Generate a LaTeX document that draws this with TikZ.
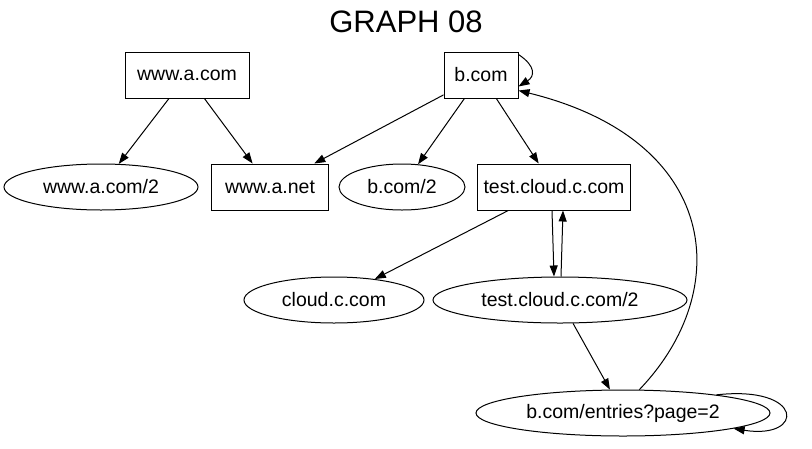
\documentclass[tikz,border=0pt]{standalone}
\usepackage{fontspec}
\setmainfont{Liberation Sans}
\usetikzlibrary{shapes.geometric,arrows.meta}
\begin{document}
\begin{tikzpicture}[x=1pt,y=-1pt,
  every node/.style={font=\fontsize{19.5}{22}\selectfont},
  boxnode/.style={draw,line width=1pt,rectangle,minimum height=46pt,inner sep=0pt},
  ellnode/.style={draw,line width=1pt,ellipse,minimum height=46pt,inner sep=0pt},
  arr/.style={line width=1pt,-{Triangle[length=11pt,width=8pt]}}]
\path[use as bounding box] (0,0) rectangle (812,448);
\node[font=\fontsize{31}{34}\selectfont] (title) at (406,22) {GRAPH 08};
\node[boxnode,minimum width=124pt] (wa) at (187,75) {www.a.com};
\node[boxnode,minimum width=74pt] (b) at (481,75) {b.com};
\node[ellnode,minimum width=194pt] (wa2) at (101,187) {www.a.com/2};
\node[boxnode,minimum width=117pt] (wan) at (270,187) {www.a.net};
\node[ellnode,minimum width=126pt] (b2) at (402,187) {b.com/2};
\node[boxnode,minimum width=153pt] (tc) at (554,187) {test.cloud.c.com};
\node[ellnode,minimum width=180pt] (cc) at (334,300) {cloud.c.com};
\node[ellnode,minimum width=254pt] (tc2) at (560,300) {test.cloud.c.com/2};
\node[ellnode,minimum width=294pt] (ent) at (623,413) {b.com/entries?page=2};
\draw[arr] (wa) -- (wa2);
\draw[arr] (wa) -- (wan);
\draw[arr] (b) -- (wan);
\draw[arr] (b) -- (b2);
\draw[arr] (b) -- (tc);
\draw[arr] ([yshift=-3pt]b.north east) .. controls +(18,12) and +(16,-10) .. ([yshift=12pt]b.south east);
\draw[arr] (tc) -- (cc);
\draw[arr] ([xshift=-2pt]tc.south) -- ([xshift=-6pt]tc2.north);
\draw[arr] ([xshift=1pt]tc2.north) -- ([xshift=9pt]tc.south);
\draw[arr] (tc2) -- (ent);
\draw[arr] (ent.55) .. controls (735,290) and (720,140) .. ([yshift=8pt]b.south east);
\draw[arr] (ent.11) .. controls (805,385) and (805,440) .. (ent.-8);
\end{tikzpicture}
\end{document}
